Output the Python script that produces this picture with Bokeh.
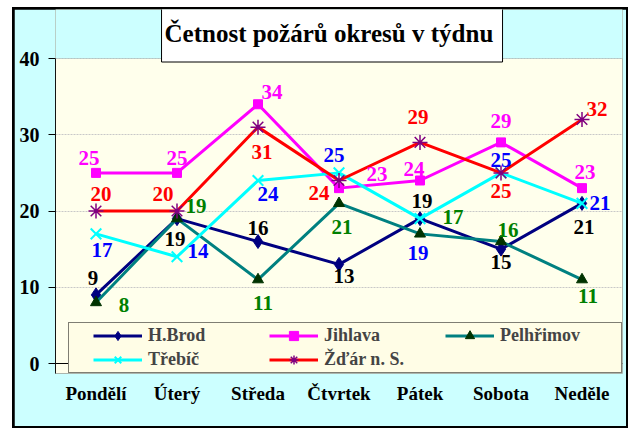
from bokeh.plotting import figure
from bokeh.layouts import column
from bokeh.models import (Range1d, Legend, LegendItem, ColumnDataSource, FixedTicker, Span,
                          Label, BoxAnnotation)
from bokeh.core.properties import value
from bokeh.embed import file_html
from bokeh.resources import INLINE

# ---------------- data ----------------
days = ["Pondělí", "Úterý", "Středa", "Čtvrtek", "Pátek", "Sobota", "Neděle"]
hbrod = [9, 19, 16, 13, 19, 15, 21]
jihlava = [25, 25, 34, 23, 24, 29, 23]
pelhrimov = [8, 19, 11, 21, 17, 16, 11]
trebic = [17, 14, 24, 25, 19, 25, 21]
zdar = [20, 20, 31, 24, 29, 25, 32]
series_names = ["H.Brod", "Jihlava", "Pelhřimov", "Třebíč", "Žďár n. S."]
y_ticks = [0, 10, 20, 30, 40]
y_min, y_max = 0, 40
title_text = "Četnost požárů  okresů v týdnu"

# ---------------- label placement (pixels, +dy = down) ----------------
off_hbrod = [(-3, -17), (-2, 20), (0, -14), (5, 12), (2, -18), (0, 13), (2, 24)]
off_jihlava = [(-7, -15), (0, -15), (14, -12), (38, -14), (-6, -12), (0, -21), (3, -16)]
off_pelhrimov = [(28, 2), (19, -13), (5, 23), (3, 24), (33, -17), (7, -12), (6, 16)]
off_trebic = [(6, 16), (21, -6), (10, 13), (-5, -18), (-2, 34), (0, -13), (18, 0)]
off_zdar = [(5, -17), (-14, -17), (4, 25), (-20, 12), (-2, -25), (0, 18), (15, -11)]

SERIF = "Liberation Serif"
CYAN_BG = "#CCFFFF"

styles = [
    dict(vals=hbrod, off=off_hbrod, line="#000080", marker="diamond", mcol="#000080", size=14, lw_m=1, lab="#000000"),
    dict(vals=jihlava, off=off_jihlava, line="#FF00FF", marker="square", mcol="#FF00FF", size=9, lw_m=1, lab="#FF00FF"),
    dict(vals=pelhrimov, off=off_pelhrimov, line="#008080", marker="triangle", mcol="#003300", size=11, lw_m=1, lab="#008000"),
    dict(vals=trebic, off=off_trebic, line="#00FFFF", marker="x", mcol="#00FFFF", size=15, lw_m=2, lab="#0000FF"),
    dict(vals=zdar, off=off_zdar, line="#FF0000", marker="asterisk", mcol="#800080", size=15, lw_m=1.5, lab="#FF0000"),
]

# layout: plot area 305px tall for 0..40; frame extends 10px below zero (legend overlap)
# and 49px above 40 (title box area)
px_per_unit = 305.0 / (y_max - y_min)
y_lo = y_min - 10.0 / px_per_unit
y_hi = y_max + 49.0 / px_per_unit

p = figure(width=612, height=417, x_range=days, y_range=Range1d(y_lo, y_hi),
           output_backend="svg", toolbar_location=None,
           min_border_left=41, min_border_right=4, min_border_top=0, min_border_bottom=53,
           border_fill_color=CYAN_BG, background_fill_color="#FFFFEC")
p.outline_line_color = None
p.x_range.range_padding = 0

p.xgrid.grid_line_color = None
p.ygrid.grid_line_color = "#C8C8C8"
p.ygrid.grid_line_dash = "2 1"

p.yaxis.ticker = FixedTicker(ticks=y_ticks)
p.yaxis.bounds = (y_lo, y_max)
p.yaxis.minor_tick_line_color = None
p.yaxis.major_tick_out = 7
p.yaxis.major_tick_in = 0
p.yaxis.major_label_standoff = 9
p.yaxis.axis_line_color = "black"
p.yaxis.major_tick_line_color = "black"
p.yaxis.major_label_text_font = SERIF
p.yaxis.major_label_text_font_style = "bold"
p.yaxis.major_label_text_font_size = "20px"
p.yaxis.major_label_text_color = "black"

p.xaxis.major_tick_line_color = None
p.xaxis.minor_tick_line_color = None
p.xaxis.axis_line_color = None
p.xaxis.major_label_standoff = 3
p.xaxis.major_label_text_font = SERIF
p.xaxis.major_label_text_font_style = "bold"
p.xaxis.major_label_text_font_size = "19px"
p.xaxis.major_label_text_color = "black"

# area above the value axis maximum shows the chart background
p.add_layout(BoxAnnotation(bottom=y_max, fill_color=CYAN_BG, fill_alpha=1, line_color=None))
# plot-area border (top / right)
p.add_layout(BoxAnnotation(top=y_max, fill_alpha=0, line_color="#808080", line_width=1))
p.add_layout(Span(location=y_min, dimension="width", line_color="black", line_width=1))

items = []
for name, st in zip(series_names, styles):
    src = ColumnDataSource(dict(
        x=days, y=st["vals"], t=[str(v) for v in st["vals"]],
        dx=[o[0] for o in st["off"]], dy=[o[1] for o in st["off"]]))
    lr = p.line("x", "y", source=src, line_color=st["line"], line_width=3)
    sr = p.scatter("x", "y", source=src, marker=st["marker"], size=st["size"],
                   fill_color=st["mcol"], line_color=st["mcol"], line_width=st["lw_m"])
    items.append(LegendItem(label=name, renderers=[lr, sr]))
    st["src"] = src

for st in styles:
    p.text("x", "y", text="t", source=st["src"], x_offset="dx", y_offset="dy",
           text_font=value(SERIF), text_font_style="bold", text_font_size="21px",
           text_color=st["lab"], text_align="center", text_baseline="middle")

legend = Legend(items=items, location=(13, 0), ncols=3, orientation="horizontal",
                glyph_width=49, glyph_height=23, label_standoff=6, label_width=120,
                label_height=16, spacing=1, padding=1,
                label_text_font=SERIF, label_text_font_style="bold", label_text_font_size="18px",
                border_line_color="black", border_line_width=1,
                background_fill_color="#FFFDE6", background_fill_alpha=1,
                title=" ", title_location="left", title_text_font_size="1px", title_standoff=22)
p.add_layout(legend, "center")

title_y = y_max + 25.0 / px_per_unit
title = Label(x=3.414, y=title_y, text=title_text, text_align="center", text_baseline="middle",
              text_font=SERIF, text_font_style="bold", text_font_size="25px", text_color="black",
              background_fill_color="white", border_line_color="black", border_line_width=1,
              padding=dict(left=3, right=3, top=15, bottom=15))
p.add_layout(title)

root = column(p, styles={"background-color": "black", "padding": "2px"}, margin=(7, 0, 0, 12))

open("out.html", "w").write(file_html(root, INLINE))
